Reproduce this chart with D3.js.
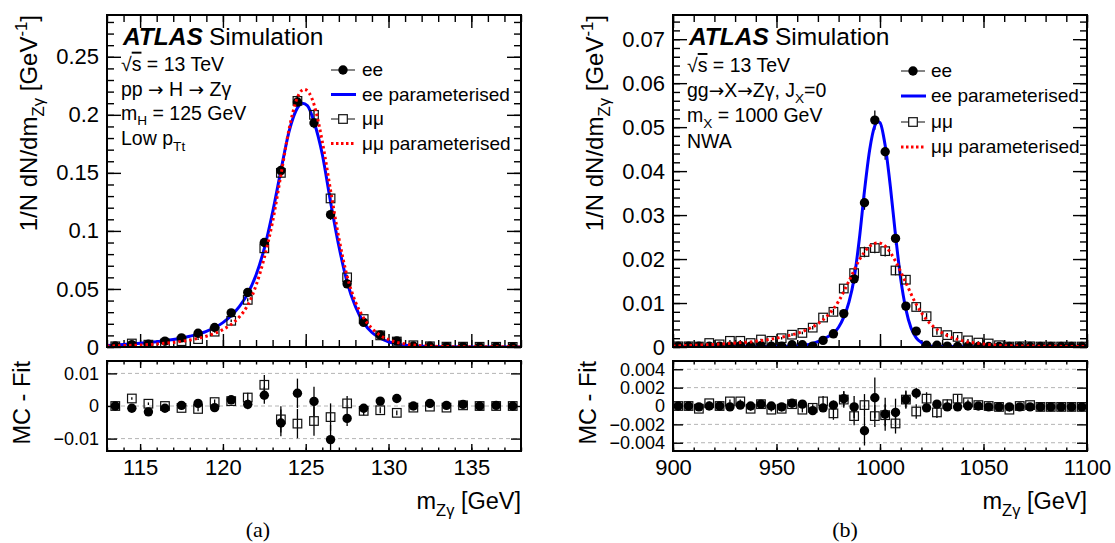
<!DOCTYPE html>
<html><head><meta charset="utf-8">
<script src="https://cdn.jsdelivr.net/npm/d3@7"></script>
<style>
body{margin:0;background:#fff}
svg{display:block}
text{font-family:"Liberation Sans",Arial,Helvetica,sans-serif;fill:#000}
</style>
</head><body>
<svg id="c" width="1115" height="543"></svg>
<script>
// ---------------- DATA: panel (a) H -> Zgamma, low pTt ----------------
const leftBins = [113.5,114.5,115.5,116.5,117.5,118.5,119.5,120.5,121.5,122.5,123.5,124.5,125.5,126.5,127.5,128.5,129.5,130.5,131.5,132.5,133.5,134.5,135.5,136.5,137.5];
const leftEE    = [0.0009,0.0020,0.0024,0.0050,0.0079,0.0118,0.0168,0.0294,0.0470,0.0900,0.1520,0.2110,0.1930,0.1140,0.0544,0.0212,0.0103,0.0053,0.0009,0.0006,0.0003,0.0003,0.0002,0.0002,0.0001];
const leftEEerr = [0.0003,0.0004,0.0004,0.0005,0.0006,0.0007,0.0008,0.0010,0.0015,0.0026,0.0041,0.0045,0.0045,0.0045,0.0023,0.0013,0.0009,0.0007,0.0004,0.0003,0.0003,0.0003,0.0002,0.0002,0.0002];
const leftMM    = [0.0006,0.0030,0.0020,0.0030,0.0050,0.0068,0.0132,0.0226,0.0406,0.0850,0.1500,0.2120,0.2000,0.1280,0.0600,0.0241,0.0100,0.0047,0.0015,0.0006,0.0003,0.0003,0.0002,0.0002,0.0001];
const leftMMerr = [0.0003,0.0004,0.0004,0.0005,0.0006,0.0007,0.0008,0.0010,0.0015,0.0030,0.0040,0.0045,0.0045,0.0042,0.0023,0.0013,0.0009,0.0007,0.0004,0.0003,0.0003,0.0003,0.0002,0.0002,0.0002];
const leftEEres = [0,-0.0007,-0.0018,-0.0007,0.0002,0.0008,-0.0005,0.0019,0.0005,0.0033,-0.0052,0.0039,0.0014,-0.0103,-0.0038,-0.0007,0.0015,0.0023,0.0000,0.0008,0.0002,0.0005,0.0000,0.0002,0.0000];
const leftMMres = [0,0.0023,0.0007,0.0000,-0.0006,-0.0009,0.0012,0.0015,0.0026,0.0065,-0.0041,-0.0054,-0.0046,-0.0034,0.0008,-0.0015,-0.0013,-0.0021,-0.0005,-0.0002,-0.0005,0.0002,0.0000,0.0000,0.0000];
// parameterised curves
const leftFitEEx = [113,114,115,116,117,118,119,120,120.5,121,121.5,122,122.5,123,123.5,124,124.5,124.8,125.1,125.5,126,126.5,127,127.5,128,128.5,129,129.5,130,130.5,131,132,133,135,138];
const leftFitEEy = [0.0013,0.0022,0.0032,0.0045,0.0064,0.0092,0.0135,0.021,0.027,0.035,0.046,0.062,0.085,0.116,0.152,0.186,0.206,0.210,0.208,0.194,0.166,0.125,0.087,0.056,0.035,0.021,0.0125,0.0075,0.0045,0.0027,0.0016,0.0007,0.0003,0.0001,0.00005];
const leftFitMMx = [113,114,115,116,117,118,119,120,120.5,121,121.5,122,122.5,123,123.5,124,124.5,124.9,125.2,125.5,126,126.5,127,127.5,128,128.5,129,129.5,130,130.5,131,132,133,135,138];
const leftFitMMy = [0.0008,0.0012,0.0017,0.0026,0.0039,0.006,0.0093,0.015,0.0195,0.026,0.036,0.053,0.077,0.108,0.148,0.188,0.215,0.222,0.219,0.209,0.177,0.135,0.094,0.061,0.039,0.025,0.016,0.010,0.0063,0.004,0.0026,0.0011,0.0005,0.0002,0.0001];
const leftYTicks = [0,0.05,0.1,0.15,0.2,0.25];
const leftYLabels = ["0","0.05","0.1","0.15","0.2","0.25"];
const leftXTicks = [115,120,125,130,135];
const leftXLabels = ["115","120","125","130","135"];
const leftResTicks = [-0.01,0,0.01];
const leftResLabels = ["\u22120.01","0","0.01"];

// ---------------- DATA: panel (b) X -> Zgamma, mX = 1000 GeV ----------------
const rightBins = [902.5,907.5,912.5,917.5,922.5,927.5,932.5,937.5,942.5,947.5,952.5,957.5,962.5,967.5,972.5,977.5,982.5,987.5,992.5,997.5,1002.5,1007.5,1012.5,1017.5,1022.5,1027.5,1032.5,1037.5,1042.5,1047.5,1052.5,1057.5,1062.5,1067.5,1072.5,1077.5,1082.5,1087.5,1092.5,1097.5];
const rightEE    = [0.0002,0.0002,0.0002,0.0002,0.0002,0.0002,0.0003,0.0002,0.0003,0.0002,0.0002,0.0005,0.0005,0.0002,0.0015,0.0030,0.0076,0.0155,0.0328,0.0516,0.0444,0.0247,0.0093,0.0036,0.0004,0.0004,0.0002,0.0001,0.0002,0.0001,0.0001,0.0001,0.0001,0.0001,0.0001,0.0001,0.0001,0.0001,0.0001,0.0001];
const rightEEerr = [0.0001,0.0001,0.0001,0.0001,0.0001,0.0001,0.0001,0.0001,0.0001,0.0001,0.0001,0.0002,0.0002,0.0002,0.0004,0.0005,0.0008,0.0012,0.0016,0.0022,0.0018,0.0015,0.0009,0.0006,0.0002,0.0001,0.0001,0.0001,0.0001,0.0001,0.0001,0.0001,0.0001,0.0001,0.0001,0.0001,0.0001,0.0001,0.0001,0.0001];
const rightMM    = [0.00015,0.00015,0.0001,0.0009,0.0006,0.0014,0.0014,0.0009,0.0017,0.0014,0.0020,0.0028,0.0032,0.0044,0.0067,0.0080,0.0133,0.0168,0.0216,0.0225,0.0218,0.0174,0.0153,0.0091,0.0070,0.0034,0.0027,0.0023,0.0015,0.0010,0.0008,0.0004,0.0001,0.00015,0.00015,0.0001,0.0001,0.0001,0.0001,0.0001];
const rightMMerr = [0.0002,0.0002,0.0002,0.0002,0.0002,0.0002,0.0002,0.0002,0.0002,0.0002,0.0003,0.0003,0.0003,0.0004,0.0006,0.0007,0.0009,0.0010,0.0012,0.0012,0.0012,0.0011,0.0010,0.0008,0.0007,0.0006,0.0005,0.0004,0.0003,0.0003,0.0002,0.0002,0.0002,0.0002,0.0002,0.0002,0.0002,0.0002,0.0002,0.0002];
const rightEEres = [0,0,-0.0001,0,0,-0.0001,0.0001,0,0.0002,0,-0.0001,0.0003,0.0002,-0.0005,-0.0002,0.0001,0.0008,-0.0001,-0.0027,0.0009,-0.0009,-0.0007,0.0007,0.0014,-0.0002,0.0002,-0.0001,-0.0001,0,0,-0.0001,-0.0001,-0.0001,-0.0001,-0.0001,-0.0001,-0.0001,-0.0001,-0.0001,-0.0001];
const rightMMres = [0,0,-0.0003,0.0003,0,0.0005,0.0005,-0.0003,0.0002,-0.0004,-0.0003,0.0002,-0.0004,-0.0002,0.0005,-0.0008,0.0007,-0.0011,0.0001,-0.0011,-0.0010,-0.0019,0.0007,-0.0006,0.0008,-0.0007,0.0002,0.0008,0.0004,0.0001,0.0000,-0.0001,-0.0004,0.0000,0.0001,-0.0001,-0.0001,-0.0001,-0.0001,-0.0001];
const rightFitEEx = [900,940,955,960,965,967.5,970,972.5,975,977.5,980,982.5,985,987.5,990,992.5,995,997.5,999,1000,1002.5,1005,1007.5,1010,1012.5,1015,1017.5,1020,1022.5,1025,1030,1050,1100];
const rightFitEEy = [0.00003,0.0001,0.00015,0.0002,0.0005,0.0008,0.0012,0.0018,0.0024,0.0031,0.0045,0.0068,0.0102,0.0156,0.0245,0.0355,0.0448,0.0503,0.0512,0.0510,0.0458,0.0365,0.0254,0.0155,0.0086,0.0043,0.0021,0.0010,0.0005,0.0002,0.0001,0.00005,0.00003];
const rightFitMMx = [900,910,920,930,940,950,955,960,965,970,975,980,985,990,995,999,1003,1007.5,1012.5,1017.5,1022.5,1027.5,1032.5,1040,1050,1060,1075,1100];
const rightFitMMy = [0.0002,0.0004,0.0006,0.0009,0.0013,0.0020,0.0025,0.0031,0.0040,0.0053,0.0073,0.0104,0.0150,0.0198,0.0229,0.0237,0.0227,0.0195,0.0146,0.0097,0.0062,0.0040,0.0026,0.0014,0.0007,0.0003,0.0002,0.0001];
const rightYTicks = [0,0.01,0.02,0.03,0.04,0.05,0.06,0.07];
const rightYLabels = ["0","0.01","0.02","0.03","0.04","0.05","0.06","0.07"];
const rightXTicks = [900,950,1000,1050,1100];
const rightXLabels = ["900","950","1000","1050","1100"];
const rightResTicks = [-0.004,-0.002,0,0.002,0.004];
const rightResLabels = ["\u22120.004","\u22120.002","0","0.002","0.004"];

const legendLabels = ["ee","ee parameterised","\u03bc\u03bc","\u03bc\u03bc parameterised"];
const leftInfo = [
  [{t:"\u221a"},{t:"s",over:true},{t:" = 13 TeV"}],
  [{t:"pp "},{t:"\u2192",arrow:true},{t:" H "},{t:"\u2192",arrow:true},{t:" Z\u03b3"}],
  [{t:"m"},{t:"H",sub:true},{t:" = 125 GeV"}],
  [{t:"Low p"},{t:"Tt",sub:true}]
];
const rightInfo = [
  [{t:"\u221a"},{t:"s",over:true},{t:" = 13 TeV"}],
  [{t:"gg"},{t:"\u2192",arrow:true},{t:"X"},{t:"\u2192",arrow:true},{t:"Z\u03b3, J"},{t:"X",sub:true},{t:"=0"}],
  [{t:"m"},{t:"X",sub:true},{t:" = 1000 GeV"}],
  [{t:"NWA"}]
];

// ---------------- LAYOUT ----------------
const TOP = {y0: 15, y1: 347};
const BOT = {y0: 361, y1: 451};
const BLUE = "#0000ff", RED = "#ff0000";
const svg = d3.select("#c");

function rich(g, x, y, segs, size, anchor) {
  const t = g.append("text").attr("x", x).attr("y", y).attr("font-size", size);
  if (anchor) t.attr("text-anchor", anchor);
  let shift = 0;
  segs.forEach(s => {
    const target = s.sub ? size * 0.3 : (s.sup ? -size * 0.42 : 0);
    const ts = t.append("tspan").text(s.t).attr("dy", target - shift);
    shift = target;
    if (s.sub || s.sup) ts.attr("font-size", size * 0.7);
    if (s.over) ts.style("text-decoration", "overline");
    if (s.arrow) ts.style("font-family", '"DejaVu Sans",sans-serif').attr("font-size", size * 0.95);
  });
  return t;
}

function styleAxis(sel, fs) {
  sel.select(".domain").remove();
  sel.selectAll(".tick line").attr("stroke", "#000").attr("stroke-width", 1.4);
  sel.selectAll(".tick text").attr("font-size", fs).attr("font-family", '"Liberation Sans",Arial,sans-serif').attr("fill", "#000");
}

function drawPanel(p) {
  const g = svg.append("g");
  const x = d3.scaleLinear().domain(p.xDom).range([p.x0, p.x1]);
  const yT = d3.scaleLinear().domain([0, p.yMax]).range([TOP.y1, TOP.y0]);
  const yB = d3.scaleLinear().domain([-p.rMax, p.rMax]).range([BOT.y1, BOT.y0]);

  const defs = g.append("defs");
  defs.append("clipPath").attr("id", p.id + "t").append("rect")
    .attr("x", p.x0).attr("y", TOP.y0).attr("width", p.x1 - p.x0).attr("height", TOP.y1 - TOP.y0);
  defs.append("clipPath").attr("id", p.id + "b").append("rect")
    .attr("x", p.x0).attr("y", BOT.y0).attr("width", p.x1 - p.x0).attr("height", BOT.y1 - BOT.y0);

  // ---- grid lines (residual panel) ----
  g.append("g").selectAll("line").data(p.resTicks).join("line")
    .attr("x1", p.x0).attr("x2", p.x1).attr("y1", d => yB(d)).attr("y2", d => yB(d))
    .attr("stroke", "#b4b4b4").attr("stroke-width", 1).attr("stroke-dasharray", "4,3");

  // ---- top plot axes ----
  styleAxis(g.append("g").attr("transform", `translate(${p.x0},0)`)
    .call(d3.axisLeft(yT).tickValues(p.yTicks).tickFormat((d, i) => p.yLabels[i]).tickSize(-14).tickPadding(8)), 22);
  styleAxis(g.append("g").attr("transform", `translate(${p.x0},0)`)
    .call(d3.axisLeft(yT).tickValues(p.yMinor).tickFormat("").tickSize(-7)), 22);
  styleAxis(g.append("g").attr("transform", `translate(${p.x1},0)`)
    .call(d3.axisRight(yT).tickValues(p.yTicks).tickFormat("").tickSize(-14)), 22);
  styleAxis(g.append("g").attr("transform", `translate(${p.x1},0)`)
    .call(d3.axisRight(yT).tickValues(p.yMinor).tickFormat("").tickSize(-7)), 22);
  styleAxis(g.append("g").attr("transform", `translate(0,${TOP.y1})`)
    .call(d3.axisBottom(x).tickValues(p.xTicks).tickFormat("").tickSize(-13)), 22);
  styleAxis(g.append("g").attr("transform", `translate(0,${TOP.y1})`)
    .call(d3.axisBottom(x).tickValues(p.xMinor).tickFormat("").tickSize(-7)), 22);
  styleAxis(g.append("g").attr("transform", `translate(0,${TOP.y0})`)
    .call(d3.axisTop(x).tickValues(p.xTicks).tickFormat("").tickSize(-13)), 22);
  styleAxis(g.append("g").attr("transform", `translate(0,${TOP.y0})`)
    .call(d3.axisTop(x).tickValues(p.xMinor).tickFormat("").tickSize(-7)), 22);

  // ---- residual panel axes ----
  styleAxis(g.append("g").attr("transform", `translate(${p.x0},0)`)
    .call(d3.axisLeft(yB).tickValues(p.resTicks).tickFormat((d, i) => p.resLabels[i]).tickSize(-10).tickPadding(8)), 18);
  styleAxis(g.append("g").attr("transform", `translate(${p.x1},0)`)
    .call(d3.axisRight(yB).tickValues(p.resTicks).tickFormat("").tickSize(-10)), 18);
  styleAxis(g.append("g").attr("transform", `translate(0,${BOT.y1})`)
    .call(d3.axisBottom(x).tickValues(p.xTicks).tickFormat((d, i) => p.xLabels[i]).tickSize(-7).tickPadding(8)), 22);
  styleAxis(g.append("g").attr("transform", `translate(0,${BOT.y1})`)
    .call(d3.axisBottom(x).tickValues(p.xMinor).tickFormat("").tickSize(-3.5)), 22);
  styleAxis(g.append("g").attr("transform", `translate(0,${BOT.y0})`)
    .call(d3.axisTop(x).tickValues(p.xTicks).tickFormat("").tickSize(-7)), 22);
  styleAxis(g.append("g").attr("transform", `translate(0,${BOT.y0})`)
    .call(d3.axisTop(x).tickValues(p.xMinor).tickFormat("").tickSize(-3.5)), 22);

  // ---- top plot content ----
  const top = g.append("g").attr("clip-path", `url(#${p.id}t)`);
  const line = d3.line().x(d => x(d[0])).y(d => yT(d[1])).curve(d3.curveMonotoneX);
  const ee = p.bins.map((b, i) => ({b, v: p.ee[i], e: p.eeErr[i], r: p.eeRes[i]}));
  const mm = p.bins.map((b, i) => ({b, v: p.mm[i], e: p.mmErr[i], r: p.mmRes[i]}));

  top.append("g").selectAll("line").data(ee.concat(mm)).join("line")
    .attr("x1", d => x(d.b)).attr("x2", d => x(d.b))
    .attr("y1", d => yT(d.v - d.e)).attr("y2", d => yT(d.v + d.e))
    .attr("stroke", "#000").attr("stroke-width", 1.3);
  top.append("path").datum(p.fitEEx.map((v, i) => [v, p.fitEEy[i]])).attr("d", line)
    .attr("fill", "none").attr("stroke", BLUE).attr("stroke-width", 3);
  top.append("g").selectAll("rect").data(mm).join("rect")
    .attr("x", d => x(d.b) - 4.3).attr("y", d => yT(d.v) - 4.3).attr("width", 8.6).attr("height", 8.6)
    .attr("fill", "none").attr("stroke", "#111").attr("stroke-width", 1.2);
  top.append("g").selectAll("circle").data(ee).join("circle")
    .attr("cx", d => x(d.b)).attr("cy", d => yT(d.v)).attr("r", 4.7).attr("fill", "#000");
  top.append("path").datum(p.fitMMx.map((v, i) => [v, p.fitMMy[i]])).attr("d", line)
    .attr("fill", "none").attr("stroke", RED).attr("stroke-width", 3).attr("stroke-dasharray", "2.5,3");

  // ---- residual content ----
  const bot = g.append("g").attr("clip-path", `url(#${p.id}b)`);
  bot.append("g").selectAll("line").data(ee.concat(mm)).join("line")
    .attr("x1", d => x(d.b)).attr("x2", d => x(d.b))
    .attr("y1", d => yB(d.r - d.e)).attr("y2", d => yB(d.r + d.e))
    .attr("stroke", "#000").attr("stroke-width", 1.3);
  bot.append("g").selectAll("rect").data(mm).join("rect")
    .attr("x", d => x(d.b) - 4.3).attr("y", d => yB(d.r) - 4.3).attr("width", 8.6).attr("height", 8.6)
    .attr("fill", "none").attr("stroke", "#111").attr("stroke-width", 1.2);
  bot.append("g").selectAll("circle").data(ee).join("circle")
    .attr("cx", d => x(d.b)).attr("cy", d => yB(d.r)).attr("r", 4.7).attr("fill", "#000");

  // ---- frames ----
  g.append("rect").attr("x", p.x0).attr("y", TOP.y0).attr("width", p.x1 - p.x0).attr("height", TOP.y1 - TOP.y0)
    .attr("fill", "none").attr("stroke", "#000").attr("stroke-width", 2);
  g.append("rect").attr("x", p.x0).attr("y", BOT.y0).attr("width", p.x1 - p.x0).attr("height", BOT.y1 - BOT.y0)
    .attr("fill", "none").attr("stroke", "#000").attr("stroke-width", 2);

  // ---- ATLAS label & info ----
  g.append("text").attr("x", p.x0 + 16).attr("y", 45).attr("font-size", 24.5)
    .attr("font-weight", "bold").attr("font-style", "italic").text("ATLAS");
  g.append("text").attr("x", p.x0 + 102).attr("y", 45).attr("font-size", 24.5).text("Simulation");
  p.info.forEach((segs, i) => rich(g, p.x0 + 14, p.infoY[i], segs, 19.5));

  // ---- legend ----
  const mx = p.x0 + p.legMx, tx = p.x0 + p.legTx;
  p.legY.forEach((yy, i) => {
    const cy = yy - 6;
    if (i === 0 || i === 2) {
      g.append("line").attr("x1", mx - 12).attr("x2", mx + 12).attr("y1", cy).attr("y2", cy)
        .attr("stroke", "#333").attr("stroke-width", 1.2);
      if (i === 0) g.append("circle").attr("cx", mx).attr("cy", cy).attr("r", 4.7).attr("fill", "#000");
      else g.append("rect").attr("x", mx - 4.3).attr("y", cy - 4.3).attr("width", 8.6).attr("height", 8.6)
        .attr("fill", "#fff").attr("stroke", "#111").attr("stroke-width", 1.2);
    } else {
      g.append("line").attr("x1", mx - 12).attr("x2", mx + 13).attr("y1", cy).attr("y2", cy)
        .attr("stroke", i === 1 ? BLUE : RED).attr("stroke-width", 3)
        .attr("stroke-dasharray", i === 1 ? null : "2.5,2.5");
    }
    g.append("text").attr("x", tx).attr("y", yy).attr("font-size", 19).text(legendLabels[i]);
  });

  // ---- axis titles ----
  const yt = rich(g, 0, 0, [{t:"1/N dN/dm"},{t:"Z\u03b3",sub:true},{t:" [GeV"},{t:"-1",sup:true},{t:"]"}], 24, "end");
  yt.attr("transform", `translate(${p.x0 - 70},${TOP.y0}) rotate(-90)`);
  g.append("text").attr("transform", `translate(${p.x0 - 77},${BOT.y0}) rotate(-90)`)
    .attr("text-anchor", "end").attr("font-size", 23.5).text("MC - Fit");
  rich(g, p.x1, 509, [{t:"m"},{t:"Z\u03b3",sub:true},{t:" [GeV]"}], 23.5, "end");

  g.append("text").attr("x", p.capX).attr("y", 537).attr("text-anchor", "middle")
    .attr("font-size", 22).style("font-family", '"Liberation Serif","DejaVu Serif",serif').text(p.cap);
}

drawPanel({
  id: "L", x0: 107, x1: 521, xDom: [113, 138], yMax: 0.286, rMax: 0.0138,
  bins: leftBins, ee: leftEE, eeErr: leftEEerr, mm: leftMM, mmErr: leftMMerr,
  eeRes: leftEEres, mmRes: leftMMres,
  fitEEx: leftFitEEx, fitEEy: leftFitEEy, fitMMx: leftFitMMx, fitMMy: leftFitMMy,
  yTicks: leftYTicks, yLabels: leftYLabels, yMinor: d3.range(0, 0.2801, 0.01),
  xTicks: leftXTicks, xLabels: leftXLabels, xMinor: d3.range(113, 138.01, 1),
  resTicks: leftResTicks, resLabels: leftResLabels,
  info: leftInfo, infoY: [70.7, 95.7, 119.5, 145],
  legY: [76, 100.5, 125, 149.5], legMx: 236, legTx: 255,
  cap: "(a)", capX: 258
});
drawPanel({
  id: "R", x0: 673, x1: 1087, xDom: [900, 1100], yMax: 0.0755, rMax: 0.0049,
  bins: rightBins, ee: rightEE, eeErr: rightEEerr, mm: rightMM, mmErr: rightMMerr,
  eeRes: rightEEres, mmRes: rightMMres,
  fitEEx: rightFitEEx, fitEEy: rightFitEEy, fitMMx: rightFitMMx, fitMMy: rightFitMMy,
  yTicks: rightYTicks, yLabels: rightYLabels, yMinor: d3.range(0, 0.0741, 0.002),
  xTicks: rightXTicks, xLabels: rightXLabels, xMinor: d3.range(900, 1100.1, 10),
  resTicks: rightResTicks, resLabels: rightResLabels,
  info: rightInfo, infoY: [72, 97, 122, 148],
  legY: [77, 102, 128, 153], legMx: 240, legTx: 258,
  cap: "(b)", capX: 845
});
</script>
</body></html>
